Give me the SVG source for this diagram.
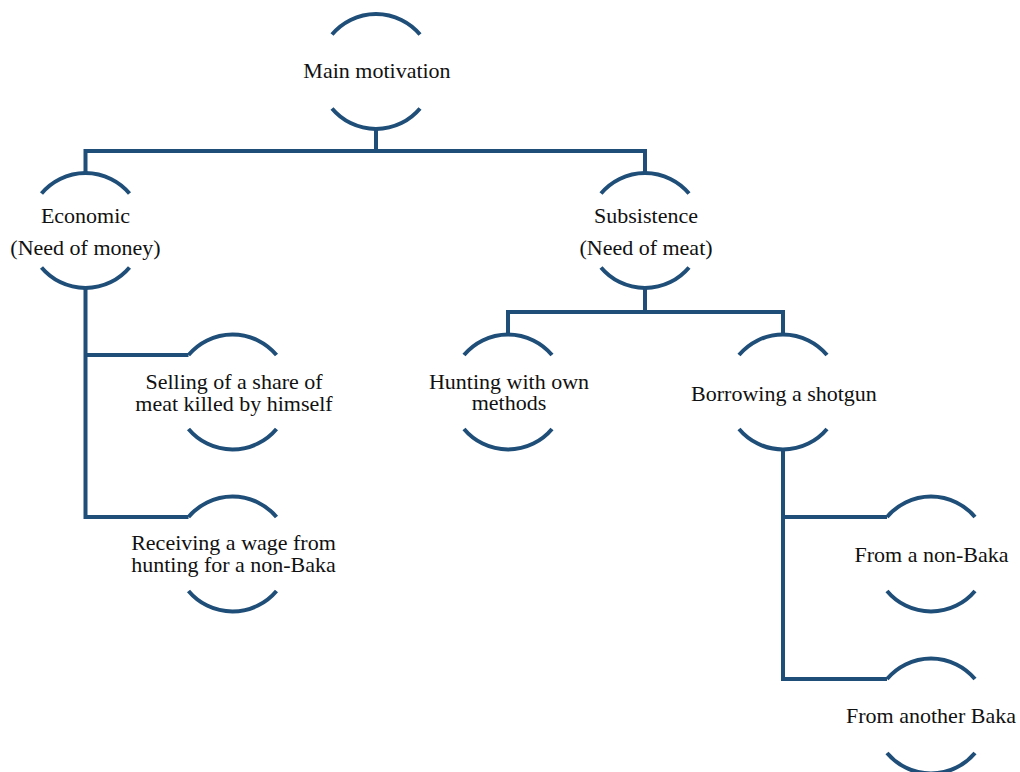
<svg xmlns="http://www.w3.org/2000/svg" width="1020" height="772" viewBox="0 0 1020 772">
<defs>
<style>
.ln{fill:none;stroke:#1F4E79;stroke-width:4;stroke-linejoin:miter}
.arc{fill:none;stroke:#1F4E79;stroke-width:4}
.t{font-family:"Liberation Serif","Times New Roman",serif;font-size:22px;fill:#111;text-anchor:middle}
</style>
</defs>
<rect width="1020" height="772" fill="#fff"/>
<g id="connectors">
<path class="ln" d="M376 129 V151 M85.5 173 V151 H645 V173"/>
<path class="ln" d="M85.5 288 V517 H188.5 M85.5 355 H188.5"/>
<path class="ln" d="M645 288 V312 M508 334.5 V312 H783 V334.5"/>
<path class="ln" d="M783 449.5 V679 H887 M783 517 H887"/>
</g>
<g id="n-main">
<path class="arc" d="M332 34.5 A57.5 57.5 0 0 1 420 34.5 M332 108.5 A57.5 57.5 0 0 0 420 108.5"/>
<text class="t" x="377" y="78">Main motivation</text>
</g>
<g id="n-economic">
<path class="arc" d="M41.5 193.5 A57.5 57.5 0 0 1 129.5 193.5 M41.5 267.5 A57.5 57.5 0 0 0 129.5 267.5"/>
<text class="t" x="85.5" y="223">Economic<tspan x="85.5" y="255">(Need of money)</tspan></text>
</g>
<g id="n-subsistence">
<path class="arc" d="M601 193.5 A57.5 57.5 0 0 1 689 193.5 M601 267.5 A57.5 57.5 0 0 0 689 267.5"/>
<text class="t" x="646" y="223">Subsistence<tspan x="646" y="255">(Need of meat)</tspan></text>
</g>
<g id="n-selling">
<path class="arc" d="M188.5 355 A57.5 57.5 0 0 1 276.5 355 M188.5 429 A57.5 57.5 0 0 0 276.5 429"/>
<text class="t" x="234" y="389">Selling of a share of<tspan x="234" y="410.5">meat killed by himself</tspan></text>
</g>
<g id="n-receiving">
<path class="arc" d="M188.5 517 A57.5 57.5 0 0 1 276.5 517 M188.5 591 A57.5 57.5 0 0 0 276.5 591"/>
<text class="t" x="233.5" y="550">Receiving a wage from<tspan x="233.5" y="571.5">hunting for a non-Baka</tspan></text>
</g>
<g id="n-hunting">
<path class="arc" d="M464 355 A57.5 57.5 0 0 1 552 355 M464 429 A57.5 57.5 0 0 0 552 429"/>
<text class="t" x="509" y="388.5">Hunting with own<tspan x="509" y="410">methods</tspan></text>
</g>
<g id="n-borrowing">
<path class="arc" d="M739 355 A57.5 57.5 0 0 1 827 355 M739 429 A57.5 57.5 0 0 0 827 429"/>
<text class="t" x="784" y="401">Borrowing a shotgun</text>
</g>
<g id="n-nonbaka">
<path class="arc" d="M887 517 A57.5 57.5 0 0 1 975 517 M887 591 A57.5 57.5 0 0 0 975 591"/>
<text class="t" x="931.5" y="562">From a non-Baka</text>
</g>
<g id="n-anotherbaka">
<path class="arc" d="M887 679 A57.5 57.5 0 0 1 975 679 M887 753 A57.5 57.5 0 0 0 975 753"/>
<text class="t" x="931" y="723">From another Baka</text>
</g>
</svg>
